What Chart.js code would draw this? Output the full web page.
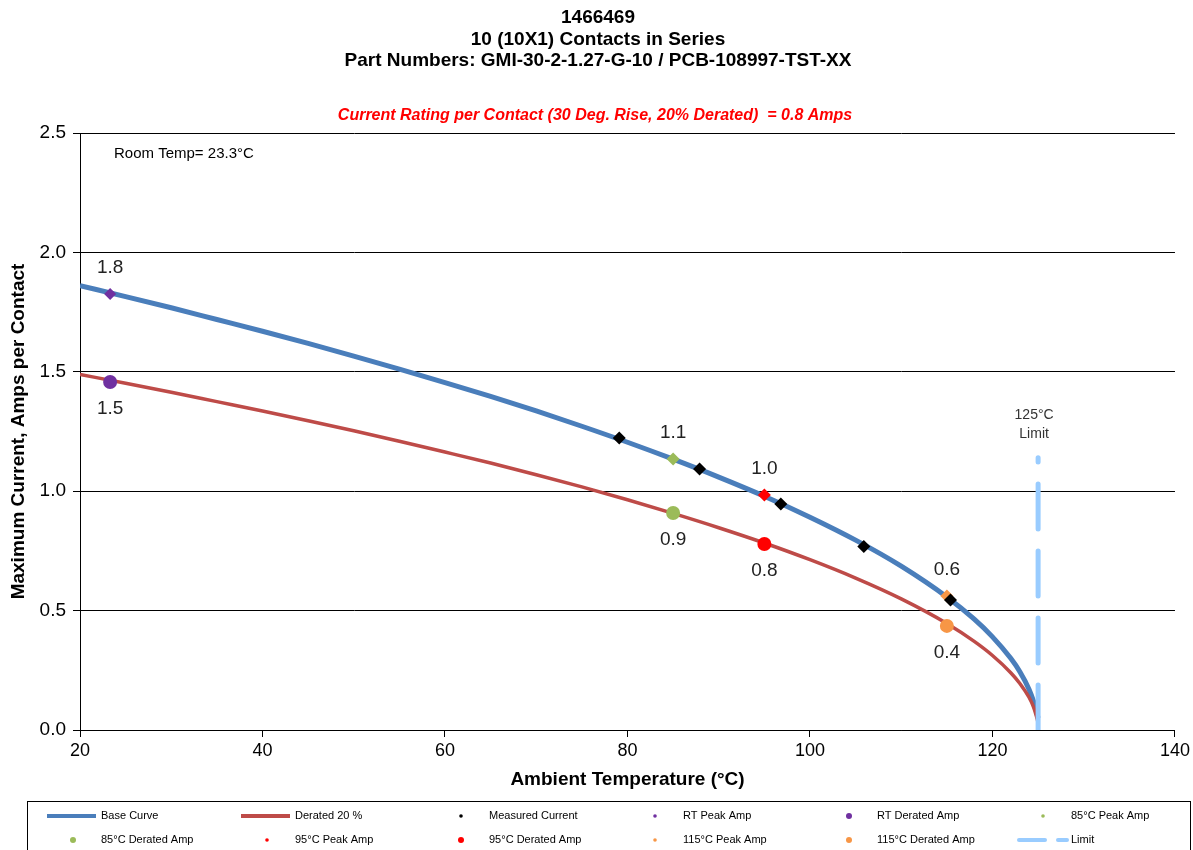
<!DOCTYPE html>
<html><head><meta charset="utf-8">
<script src="https://cdn.jsdelivr.net/npm/chart.js@4/dist/chart.umd.min.js"></script>
<style>html,body{margin:0;padding:0;background:#fff;overflow:hidden}canvas{display:block}</style>
</head><body>
<canvas id="c" width="1193" height="850"></canvas>
<script>
const titleLines = ['1466469', '10 (10X1) Contacts in Series', 'Part Numbers: GMI-30-2-1.27-G-10 / PCB-108997-TST-XX'];
const ratingText = 'Current Rating per Contact (30 Deg. Rise, 20% Derated)  = 0.8 Amps';
const roomTempText = 'Room Temp= 23.3°C';
const limitText = ['125°C', 'Limit'];
const xAxisTitle = 'Ambient Temperature (°C)';
const yAxisTitle = 'Maximum Current, Amps per Contact';
const xTicks = [20, 40, 60, 80, 100, 120, 140];
const yTicks = [0, 0.5, 1.0, 1.5, 2.0, 2.5];

const curveTemps = [20, 25, 30, 35, 40, 45, 50, 55, 60, 65, 70, 75, 80, 85, 90, 95, 100, 105, 110, 115, 118, 120, 122, 123, 124, 124.5, 124.8, 125];
const baseCurve = [1.861, 1.815, 1.768, 1.719, 1.670, 1.619, 1.566, 1.511, 1.455, 1.397, 1.336, 1.272, 1.205, 1.134, 1.059, 0.979, 0.891, 0.795, 0.686, 0.557, 0.464, 0.390, 0.300, 0.244, 0.171, 0.120, 0.080, 0.050];
const deratedCurve = [1.489, 1.452, 1.414, 1.375, 1.336, 1.295, 1.253, 1.209, 1.164, 1.118, 1.069, 1.018, 0.964, 0.907, 0.847, 0.783, 0.713, 0.636, 0.549, 0.446, 0.371, 0.312, 0.240, 0.195, 0.137, 0.096, 0.060, 0.030];

const measuredTemps = [79.1, 87.9, 96.8, 105.9, 115.4];
const measuredAmps = [1.223, 1.093, 0.946, 0.768, 0.544];

const rtTemp = [23.3];
const rtPeak = [1.826];
const rtDerated = [1.457];
const t85 = [85];
const peak85 = [1.135];
const derated85 = [0.909];
const t95 = [95];
const peak95 = [0.984];
const derated95 = [0.779];
const t115 = [115];
const peak115 = [0.561];
const derated115 = [0.436];

const limitTemps = [125, 125];
const limitAmps = [0, 1.14];

const FONT = "'Liberation Sans', Arial, sans-serif";
const pts = (xs, ys) => xs.map((x, i) => ({x: x, y: ys[i]}));

function marker(label, xs, ys, color, style, r, lr, labelPos) {
  return {label: label, data: pts(xs, ys), showLine: false, pointStyle: style, pointRadius: r,
    pointBackgroundColor: color, pointBorderColor: color, pointBorderWidth: 0, backgroundColor: color, borderColor: color,
    order: 0, legendRadius: lr, valueLabel: labelPos};
}

const datasets = [
  {label: 'Base Curve', data: pts(curveTemps, baseCurve), showLine: true, borderColor: '#4A7EBB', backgroundColor: '#4A7EBB',
   borderWidth: 5, pointRadius: 0, cubicInterpolationMode: 'monotone', order: 3, legendLine: true},
  {label: 'Derated 20 %', data: pts(curveTemps, deratedCurve), showLine: true, borderColor: '#BE4B48', backgroundColor: '#BE4B48',
   borderWidth: 3.5, pointRadius: 0, cubicInterpolationMode: 'monotone', order: 2, legendLine: true},
  marker('Measured Current', measuredTemps, measuredAmps, '#000000', 'rectRot', 6.5, 1.8, null),
  marker('RT Peak Amp', rtTemp, rtPeak, '#7030A0', 'rectRot', 6, 1.8, 'above'),
  marker('RT Derated Amp', rtTemp, rtDerated, '#7030A0', 'circle', 7, 3, 'below'),
  marker('85°C Peak Amp', t85, peak85, '#9BBB59', 'rectRot', 6.5, 1.8, 'above'),
  marker('85°C Derated Amp', t85, derated85, '#9BBB59', 'circle', 7, 3, 'below'),
  marker('95°C Peak Amp', t95, peak95, '#FF0000', 'rectRot', 6.5, 1.8, 'above'),
  marker('95°C Derated Amp', t95, derated95, '#FF0000', 'circle', 7, 3, 'below'),
  marker('115°C Peak Amp', t115, peak115, '#F79646', 'rectRot', 6.5, 1.8, 'above'),
  marker('115°C Derated Amp', t115, derated115, '#F79646', 'circle', 7, 3, 'below'),
  {label: 'Limit', data: pts(limitTemps, limitAmps), showLine: true, borderColor: '#99CCFF', backgroundColor: '#99CCFF',
   borderWidth: 5, borderDash: [45, 22], borderCapStyle: 'round', pointRadius: 0, order: 1, legendLine: true, legendDash: true}
];

const annotations = {
  id: 'annotations',
  afterDraw(chart) {
    const ctx = chart.ctx;
    const xs = chart.scales.x, ys = chart.scales.y;
    ctx.save();
    // titles
    ctx.textAlign = 'center';
    ctx.textBaseline = 'middle';
    ctx.fillStyle = '#000';
    ctx.font = 'bold 19px ' + FONT;
    const tY = [18, 40, 61];
    titleLines.forEach((t, i) => ctx.fillText(t, 598, tY[i]));
    ctx.fillStyle = '#FF0000';
    ctx.font = 'italic bold 16px ' + FONT;
    ctx.fillText(ratingText, 595, 116);
    // room temp
    ctx.fillStyle = '#000';
    ctx.font = '15px ' + FONT;
    ctx.textAlign = 'left';
    ctx.fillText(roomTempText, 114, 154);
    // limit label
    ctx.textAlign = 'center';
    ctx.fillStyle = '#333';
    ctx.font = '14px ' + FONT;
    const lx = xs.getPixelForValue(limitTemps[1]);
    const ly = ys.getPixelForValue(limitAmps[1]);
    ctx.fillText(limitText[0], lx - 4, ly - 43);
    ctx.fillText(limitText[1], lx - 4, ly - 24);
    // value labels
    ctx.font = '19px ' + FONT;
    ctx.fillStyle = '#222';
    chart.data.datasets.forEach(ds => {
      if (!ds.valueLabel) return;
      ds.data.forEach(p => {
        const px = xs.getPixelForValue(p.x), py = ys.getPixelForValue(p.y);
        ctx.fillText(p.y.toFixed(1), px, py + (ds.valueLabel === 'above' ? -26 : 27));
      });
    });
    // legend
    ctx.strokeStyle = '#000';
    ctx.lineWidth = 1;
    ctx.strokeRect(27.5, 801.5, 1163, 70);
    ctx.font = '11px ' + FONT;
    ctx.textAlign = 'left';
    ctx.fillStyle = '#000';
    chart.data.datasets.forEach((ds, i) => {
      const col = i % 6, row = Math.floor(i / 6);
      const tx = 101 + col * 194;
      const y = 816 + row * 24;
      if (ds.legendLine) {
        ctx.strokeStyle = ds.borderColor;
        ctx.lineWidth = 4;
        ctx.lineCap = ds.legendDash ? 'round' : 'butt';
        if (ds.legendDash) {
          ctx.beginPath(); ctx.moveTo(tx - 52, y); ctx.lineTo(tx - 26, y); ctx.stroke();
          ctx.beginPath(); ctx.moveTo(tx - 13, y); ctx.lineTo(tx - 4, y); ctx.stroke();
        } else {
          ctx.beginPath(); ctx.moveTo(tx - 54, y); ctx.lineTo(tx - 5, y); ctx.stroke();
        }
      } else {
        ctx.fillStyle = ds.pointBackgroundColor;
        ctx.beginPath();
        ctx.arc(tx - 28, y, ds.legendRadius, 0, Math.PI * 2);
        ctx.fill();
      }
      ctx.fillStyle = '#000';
      ctx.fillText(ds.label, tx, y);
    });
    ctx.restore();
  }
};

new Chart(document.getElementById('c'), {
  type: 'scatter',
  data: {datasets: datasets},
  options: {
    responsive: false,
    animation: false,
    events: [],
    layout: {padding: {top: 133, bottom: 50, left: 0, right: 18}},
    plugins: {legend: {display: false}, tooltip: {enabled: false}, title: {display: false}},
    scales: {
      x: {
        type: 'linear', min: 20, max: 140,
        afterBuildTicks: s => { s.ticks = xTicks.map(v => ({value: v})); },
        grid: {drawOnChartArea: false, drawTicks: true, tickLength: 7, color: '#000'},
        border: {display: true, color: '#000', width: 1},
        ticks: {font: {family: FONT, size: 18}, color: '#000', padding: 3, maxRotation: 0},
        title: {display: true, text: xAxisTitle, font: {family: FONT, size: 19, weight: 'bold'}, color: '#000', padding: {top: 4, bottom: 9}},
        afterFit: s => { s.height = 70; }
      },
      y: {
        type: 'linear', min: 0, max: 2.5,
        afterBuildTicks: s => { s.ticks = yTicks.map(v => ({value: v})); },
        grid: {color: '#000', lineWidth: 1, tickLength: 7},
        border: {display: true, color: '#000', width: 1},
        ticks: {font: {family: FONT, size: 19}, color: '#000', padding: 7, callback: v => Number(v).toFixed(1)},
        title: {display: true, text: yAxisTitle, font: {family: FONT, size: 19, weight: 'bold'}, color: '#000', padding: {top: 7, bottom: 4}},
        afterFit: s => { s.width = 80; }
      }
    }
  },
  plugins: [annotations]
});
</script>
</body></html>
